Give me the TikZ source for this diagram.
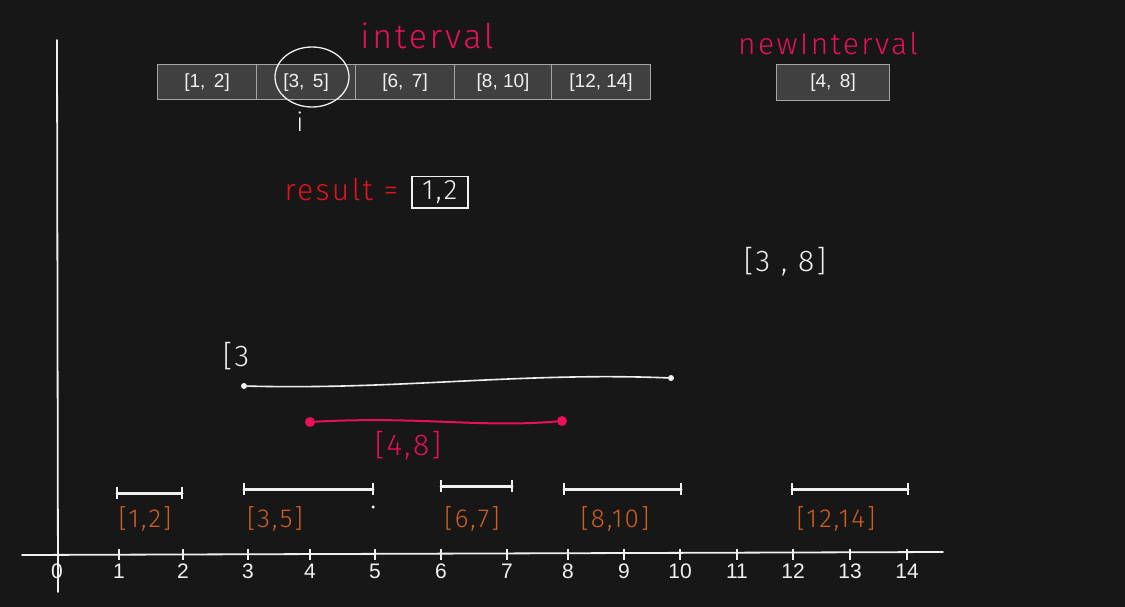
\documentclass[tikz,border=0pt]{standalone}
\usepackage{fontspec}
\setmainfont{Liberation Sans}
\newfontfamily\hand[LetterSpace=8]{Fira Sans Light}
\definecolor{bg}{RGB}{23,23,23}
\definecolor{cellfill}{RGB}{64,64,64}
\definecolor{celldraw}{RGB}{165,165,165}
\definecolor{pinkc}{RGB}{232,16,90}
\definecolor{redc}{RGB}{225,20,30}
\definecolor{orangec}{RGB}{205,95,35}
\definecolor{chalk}{RGB}{240,240,240}
\tikzset{
  cell/.style={draw=celldraw, fill=cellfill, line width=1.2pt, minimum width=99pt, minimum height=35pt, inner sep=0pt, text=chalk, font=\fontsize{19}{19}\selectfont},
  chalkline/.style={draw=chalk, line width=1.8pt, line cap=round},
  hw/.style={font=\hand\fontsize{30}{30}\selectfont},
  tick/.style={draw=chalk, line width=1.5pt},
  ticklabel/.style={text=chalk, font=\fontsize{21}{21}\selectfont},
  seg/.style={draw=chalk, line width=3pt, line cap=round},
  endbar/.style={draw=chalk, line width=2.5pt},
  dotw/.style={circle, fill=chalk, inner sep=0pt, minimum size=6pt},
  dotp/.style={circle, fill=pinkc, inner sep=0pt, minimum size=10pt},
}
\begin{document}
\begin{tikzpicture}[x=1pt,y=-1pt]
\fill[bg] (0,0) rectangle (1125,607);
\useasboundingbox (0,0) rectangle (1125,607);

% axes
\coordinate (xa) at (22,555);
\coordinate (xb) at (943,552);
\coordinate (ya) at (57,40);
\coordinate (yb) at (58,592);
\draw[chalkline] (xa) -- (xb);
\draw[chalkline] (ya) -- (yb);
\foreach \v/\px in {1/119,2/183,3/248,4/310,5/375,6/441,7/507,8/568,9/624,10/680,11/737,12/793,13/850,14/907}{
  \draw[tick] (\px,549) -- (\px,560);
  \node[ticklabel] (t\v) at (\px,571) {\v};
}
\node[ticklabel] (t0) at (57,571) {0};

% top array
\node[cell, anchor=north west] (c1) at (157,64) {[1,\, 2]};
\node[cell, anchor=north west] (c2) at (256,64) {[3,\, 5]};
\node[cell, anchor=north west] (c3) at (355,64) {[6,\, 7]};
\node[cell, anchor=north west, minimum width=97pt] (c4) at (454,64) {[8, 10]};
\node[cell, anchor=north west] (c5) at (551,64) {[12, 14]};
\node[cell, anchor=north west, minimum width=113pt, minimum height=36pt] (ni) at (776,64) {[4,\, 8]};

\node[hw, text=pinkc, font=\hand\fontsize{34}{34}\selectfont] (lint) at (427,36) {interval};
\node[hw, text=pinkc, font=\hand\fontsize{30}{30}\selectfont] (lnew) at (828,44) {newInterval};

% circle around [3,5] and i
\draw[chalk, line width=1.3pt] (312,77) ellipse [x radius=37pt, y radius=30pt];
\node[hw, text=chalk, font=\hand\fontsize{26}{26}\selectfont] (li) at (300,122) {i};

% result
\node[hw, text=redc, anchor=east] (lres) at (402,190) {result =};
\node[draw=chalk, line width=1.5pt, text=chalk, minimum width=56pt, minimum height=31pt, inner sep=0pt, font=\hand\fontsize{28}{28}\selectfont, anchor=north west] (rbox) at (411,176) {1,2};

\node[hw, text=chalk] (l38) at (785,262) {[3 , 8]};
\node[hw, text=chalk] (l3) at (236,356) {[3};

% merged lines
\node[dotw] (wa) at (244,386) {};
\node[dotw] (wb) at (671,378) {};
\draw[draw=chalk, line width=1.6pt] (wa) .. controls (400,390) and (520,372) .. (wb);
\node[dotp] (pa) at (310,422) {};
\node[dotp] (pb) at (562,421) {};
\draw[draw=pinkc, line width=2pt] (pa) .. controls (420,416) and (480,428) .. (pb);
\node[hw, text=pinkc] (l48) at (408,446) {[4,8]};

% interval segments
\foreach \n/\xa/\xb/\yy/\lab/\lx in {s1/117/182/493/{[1,2]}/145, s2/244/373/489/{[3,5]}/275, s3/441/512/486/{[6,7]}/472, s4/564/681/489/{[8,10]}/615, s5/792/908/489/{[12,14]}/836}{
  \coordinate (\n a) at (\xa,\yy);
  \coordinate (\n b) at (\xb,\yy);
  \draw[seg] (\n a) -- (\n b);
  \draw[endbar] (\xa,\yy-6) -- (\xa,\yy+6);
  \draw[endbar] (\xb,\yy-6) -- (\xb,\yy+6);
  \node[hw, text=orangec, font=\hand\fontsize{26}{26}\selectfont] (\n l) at (\lx,519) {\lab};
}
\node[circle, fill=chalk, inner sep=0pt, minimum size=3.5pt] (stray) at (373,507) {};
\end{tikzpicture}
\end{document}
